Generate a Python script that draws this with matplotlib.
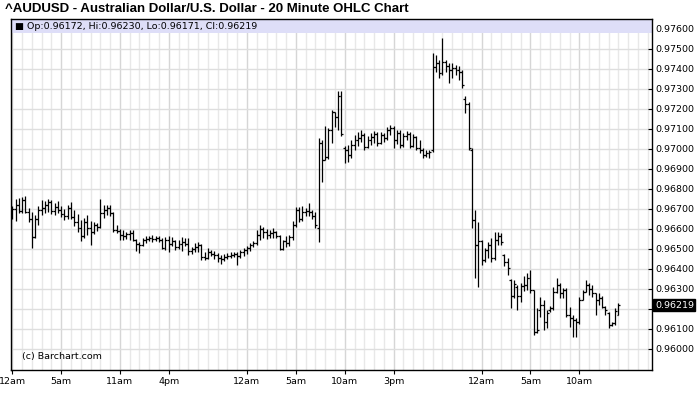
import numpy as np
import matplotlib
matplotlib.use("Agg")
import matplotlib.pyplot as plt
from matplotlib.patches import Rectangle

plt.rcParams["font.family"] = ["DejaVu Sans"]

# 20 minute bars, AUD/USD
opens = [
    0.96665, 0.96700, 0.96720, 0.96690, 0.96745, 0.96685, 0.96650, 0.96560, 0.96650, 0.96695,
    0.96705, 0.96720, 0.96735, 0.96690, 0.96710, 0.96695, 0.96675, 0.96665, 0.96705, 0.96660,
    0.96635, 0.96605, 0.96565, 0.96635, 0.96605, 0.96585, 0.96620, 0.96610, 0.96680, 0.96695,
    0.96705, 0.96680, 0.96595, 0.96590, 0.96570, 0.96565, 0.96575, 0.96580, 0.96545, 0.96525,
    0.96520, 0.96545, 0.96550, 0.96555, 0.96550, 0.96555, 0.96545, 0.96505, 0.96545, 0.96525,
    0.96540, 0.96510, 0.96525, 0.96535, 0.96525, 0.96490, 0.96500, 0.96510, 0.96520, 0.96460,
    0.96455, 0.96485, 0.96475, 0.96470, 0.96455, 0.96450, 0.96460, 0.96465, 0.96470, 0.96475,
    0.96465, 0.96485, 0.96495, 0.96505, 0.96520, 0.96530, 0.96570, 0.96600, 0.96585, 0.96570,
    0.96580, 0.96585, 0.96565, 0.96500, 0.96540, 0.96530, 0.96560, 0.96620, 0.96695, 0.96650,
    0.96685, 0.96690, 0.96685, 0.96665, 0.96605, 0.97030, 0.96945, 0.96960, 0.97095, 0.97185,
    0.97160, 0.97265, 0.97005, 0.96995, 0.96970, 0.97020, 0.97045, 0.97055, 0.97070, 0.97010,
    0.97045, 0.97060, 0.97075, 0.97030, 0.97070, 0.97055, 0.97095, 0.97105, 0.97045, 0.97080,
    0.97020, 0.97065, 0.97075, 0.97015, 0.97060, 0.97005, 0.96995, 0.96970, 0.96980, 0.96995,
    0.97410, 0.97430, 0.97380, 0.97435, 0.97415, 0.97395, 0.97405, 0.97395, 0.97385, 0.97250,
    0.97225, 0.96995, 0.96645, 0.96520, 0.96540, 0.96445, 0.96495, 0.96520, 0.96455, 0.96545,
    0.96565, 0.96470, 0.96435, 0.96345, 0.96265, 0.96310, 0.96265, 0.96315, 0.96320, 0.96355,
    0.96295, 0.96085, 0.96195, 0.96220, 0.96135, 0.96195, 0.96205, 0.96285, 0.96320, 0.96280,
    0.96295, 0.96170, 0.96155, 0.96145, 0.96135, 0.96245, 0.96285, 0.96320, 0.96300, 0.96280,
    0.96245, 0.96255, 0.96210, 0.96180, 0.96120, 0.96130, 0.96172,
]
highs = [
    0.96715, 0.96750, 0.96755, 0.96760, 0.96765, 0.96705, 0.96685, 0.96670, 0.96715, 0.96745,
    0.96740, 0.96750, 0.96745, 0.96730, 0.96740, 0.96715, 0.96700, 0.96720, 0.96735, 0.96695,
    0.96675, 0.96645, 0.96655, 0.96670, 0.96640, 0.96635, 0.96630, 0.96750, 0.96720, 0.96720,
    0.96720, 0.96685, 0.96620, 0.96600, 0.96595, 0.96585, 0.96595, 0.96595, 0.96550, 0.96535,
    0.96555, 0.96565, 0.96565, 0.96570, 0.96565, 0.96565, 0.96555, 0.96560, 0.96565, 0.96560,
    0.96545, 0.96545, 0.96560, 0.96555, 0.96555, 0.96510, 0.96530, 0.96535, 0.96525, 0.96485,
    0.96505, 0.96495, 0.96490, 0.96480, 0.96470, 0.96475, 0.96480, 0.96485, 0.96485, 0.96485,
    0.96495, 0.96505, 0.96515, 0.96530, 0.96540, 0.96595, 0.96620, 0.96610, 0.96600, 0.96595,
    0.96605, 0.96590, 0.96570, 0.96545, 0.96565, 0.96570, 0.96640, 0.96710, 0.96710, 0.96715,
    0.96705, 0.96730, 0.96695, 0.96685, 0.97055, 0.97045, 0.97115, 0.97105, 0.97195, 0.97185,
    0.97290, 0.97290, 0.97015, 0.97020, 0.97045, 0.97070, 0.97085, 0.97095, 0.97080, 0.97065,
    0.97080, 0.97090, 0.97085, 0.97085, 0.97080, 0.97110, 0.97120, 0.97115, 0.97095, 0.97095,
    0.97080, 0.97090, 0.97085, 0.97075, 0.97065, 0.97045, 0.97005, 0.96995, 0.96995, 0.97480,
    0.97470, 0.97445, 0.97555, 0.97445, 0.97430, 0.97430, 0.97420, 0.97415, 0.97395, 0.97265,
    0.97235, 0.97005, 0.96695, 0.96635, 0.96545, 0.96505, 0.96535, 0.96555, 0.96585, 0.96585,
    0.96580, 0.96475, 0.96455, 0.96350, 0.96345, 0.96320, 0.96330, 0.96365, 0.96380, 0.96395,
    0.96295, 0.96205, 0.96260, 0.96245, 0.96195, 0.96215, 0.96310, 0.96355, 0.96330, 0.96305,
    0.96305, 0.96210, 0.96170, 0.96155, 0.96260, 0.96295, 0.96345, 0.96330, 0.96320, 0.96280,
    0.96280, 0.96265, 0.96215, 0.96185, 0.96135, 0.96205, 0.96230,
]
lows = [
    0.96650, 0.96640, 0.96680, 0.96680, 0.96680, 0.96635, 0.96505, 0.96555, 0.96620, 0.96670,
    0.96680, 0.96685, 0.96675, 0.96670, 0.96680, 0.96660, 0.96645, 0.96650, 0.96650, 0.96615,
    0.96585, 0.96540, 0.96555, 0.96570, 0.96520, 0.96575, 0.96590, 0.96605, 0.96655, 0.96670,
    0.96665, 0.96585, 0.96580, 0.96545, 0.96545, 0.96550, 0.96545, 0.96540, 0.96490, 0.96480,
    0.96515, 0.96530, 0.96540, 0.96535, 0.96540, 0.96535, 0.96500, 0.96495, 0.96485, 0.96515,
    0.96495, 0.96500, 0.96490, 0.96515, 0.96470, 0.96475, 0.96485, 0.96485, 0.96445, 0.96445,
    0.96450, 0.96465, 0.96450, 0.96435, 0.96425, 0.96440, 0.96450, 0.96455, 0.96460, 0.96420,
    0.96455, 0.96465, 0.96475, 0.96490, 0.96510, 0.96520, 0.96545, 0.96555, 0.96550, 0.96555,
    0.96555, 0.96555, 0.96495, 0.96495, 0.96510, 0.96515, 0.96545, 0.96610, 0.96635, 0.96640,
    0.96665, 0.96665, 0.96650, 0.96605, 0.96535, 0.96835, 0.96945, 0.96950, 0.97030, 0.97110,
    0.97095, 0.97065, 0.96930, 0.96935, 0.96955, 0.96995, 0.97015, 0.97035, 0.96995, 0.97005,
    0.97020, 0.97030, 0.97015, 0.97025, 0.97035, 0.97045, 0.97070, 0.97005, 0.97025, 0.97005,
    0.97010, 0.97045, 0.97005, 0.97010, 0.96995, 0.96980, 0.96955, 0.96960, 0.96955, 0.96985,
    0.97385, 0.97355, 0.97370, 0.97385, 0.97330, 0.97355, 0.97370, 0.97345, 0.97305, 0.97180,
    0.96995, 0.96605, 0.96355, 0.96310, 0.96420, 0.96435, 0.96455, 0.96435, 0.96445, 0.96520,
    0.96520, 0.96415, 0.96370, 0.96205, 0.96255, 0.96195, 0.96235, 0.96290, 0.96295, 0.96280,
    0.96070, 0.96080, 0.96160, 0.96095, 0.96105, 0.96185, 0.96195, 0.96280, 0.96255, 0.96255,
    0.96160, 0.96110, 0.96060, 0.96060, 0.96125, 0.96245, 0.96285, 0.96270, 0.96260, 0.96170,
    0.96220, 0.96205, 0.96170, 0.96105, 0.96115, 0.96120, 0.96171,
]
closes = [
    0.96700, 0.96720, 0.96690, 0.96745, 0.96685, 0.96650, 0.96560, 0.96650, 0.96695, 0.96705,
    0.96720, 0.96735, 0.96690, 0.96710, 0.96695, 0.96675, 0.96665, 0.96705, 0.96660, 0.96635,
    0.96605, 0.96565, 0.96635, 0.96605, 0.96585, 0.96620, 0.96610, 0.96680, 0.96695, 0.96705,
    0.96680, 0.96595, 0.96590, 0.96570, 0.96565, 0.96575, 0.96580, 0.96545, 0.96525, 0.96520,
    0.96545, 0.96550, 0.96555, 0.96550, 0.96555, 0.96545, 0.96505, 0.96545, 0.96525, 0.96540,
    0.96510, 0.96525, 0.96535, 0.96525, 0.96490, 0.96500, 0.96510, 0.96520, 0.96460, 0.96455,
    0.96485, 0.96475, 0.96470, 0.96455, 0.96450, 0.96460, 0.96465, 0.96470, 0.96475, 0.96465,
    0.96485, 0.96495, 0.96505, 0.96520, 0.96530, 0.96570, 0.96600, 0.96585, 0.96570, 0.96580,
    0.96585, 0.96565, 0.96500, 0.96540, 0.96530, 0.96560, 0.96620, 0.96695, 0.96650, 0.96685,
    0.96690, 0.96685, 0.96665, 0.96620, 0.97030, 0.96945, 0.96960, 0.97095, 0.97185, 0.97160,
    0.97265, 0.97075, 0.96995, 0.96970, 0.97020, 0.97045, 0.97055, 0.97070, 0.97010, 0.97045,
    0.97060, 0.97075, 0.97030, 0.97070, 0.97055, 0.97095, 0.97105, 0.97045, 0.97080, 0.97020,
    0.97065, 0.97075, 0.97015, 0.97060, 0.97005, 0.96995, 0.96970, 0.96980, 0.96985, 0.97410,
    0.97430, 0.97380, 0.97435, 0.97415, 0.97395, 0.97405, 0.97395, 0.97385, 0.97320, 0.97225,
    0.97005, 0.96645, 0.96520, 0.96540, 0.96445, 0.96495, 0.96520, 0.96455, 0.96545, 0.96565,
    0.96535, 0.96435, 0.96405, 0.96265, 0.96325, 0.96265, 0.96315, 0.96320, 0.96355, 0.96295,
    0.96085, 0.96095, 0.96220, 0.96135, 0.96180, 0.96205, 0.96285, 0.96320, 0.96280, 0.96295,
    0.96170, 0.96155, 0.96145, 0.96135, 0.96245, 0.96285, 0.96320, 0.96300, 0.96280, 0.96245,
    0.96255, 0.96210, 0.96195, 0.96120, 0.96130, 0.96190, 0.96219,
]

# bar index of labelled times (3 bars per hour)
tick_pos = [0, 15, 33, 48, 72, 87, 102, 117, 144, 159, 174]
tick_labels = ["12am", "5am", "11am", "4pm", "12am", "5am", "10am", "3pm", "12am", "5am", "10am"]
price_ticks = [0.960, 0.961, 0.962, 0.963, 0.964, 0.965, 0.966, 0.967, 0.968,
               0.969, 0.970, 0.971, 0.972, 0.973, 0.974, 0.975, 0.976]

title = "^AUDUSD - Australian Dollar/U.S. Dollar - 20 Minute OHLC Chart"
ohlc_text = "\u25a0 Op:0.96172, Hi:0.96230, Lo:0.96171, Cl:0.96219"

x = np.arange(len(opens))
last = closes[-1]

fig = plt.figure(figsize=(7, 4.11), dpi=100)
ax = fig.add_axes([0.0153, 0.0998, 0.9157, 0.854])

# OHLC bars
ax.vlines(x, lows, highs, color="black", lw=0.9, zorder=3)
ax.hlines(opens, x - 0.6, x, color="black", lw=0.9, zorder=3)
ax.hlines(closes, x, x + 0.6, color="black", lw=0.9, zorder=3)

ax.set_xlim(-0.5, 196.2)
ax.set_ylim(0.95895, 0.9765)

# grid: hourly verticals, 0.001 horizontals
ax.set_xticks(tick_pos)
ax.set_xticklabels(tick_labels)
ax.set_xticks(np.arange(0, 197, 3), minor=True)
ax.grid(which="minor", axis="x", color="#e8e8e8", lw=1.0, zorder=0)
ax.grid(which="major", axis="x", color="#d6d6d6", lw=1.0, zorder=0)
ax.set_yticks(price_ticks)
# the label hidden behind the last-price box is left out
ax.set_yticklabels(["" if abs(v - last) < 0.0003 else "%.5f" % v for v in price_ticks])
ax.grid(which="major", axis="y", color="#dedede", lw=1.0, zorder=0)
ax.set_axisbelow(True)

ax.yaxis.tick_right()
ax.tick_params(axis="y", direction="in", length=3, width=0.8, pad=3, labelsize=6.8)
ax.tick_params(axis="x", which="major", direction="out", length=3, width=0.8,
               pad=2, labelsize=6.8)
ax.tick_params(axis="x", which="minor", length=0)

for s in ax.spines.values():
    s.set_color("black")
    s.set_linewidth(1.0)

# lavender header band inside plot
ax.add_patch(Rectangle((0, 0.960), 1, 0.04, transform=ax.transAxes,
                       facecolor="#dedef8", edgecolor="none", zorder=2))
ax.text(0.006, 0.980, ohlc_text, transform=ax.transAxes, fontsize=6.8,
        va="center", ha="left", zorder=4)

ax.text(0.018, 0.037, "(c) Barchart.com", transform=ax.transAxes, fontsize=6.8,
        va="center", ha="left", zorder=4)

# last price box on the right axis
ax.text(1.005, last, "%.5f" % last, transform=ax.get_yaxis_transform(),
        fontsize=6.8, color="white", va="center", ha="left",
        bbox=dict(boxstyle="square,pad=0.15", facecolor="black", edgecolor="black"),
        zorder=5, clip_on=False)

fig.text(0.007, 0.978, title, fontsize=9.5, fontweight="bold",
         family="Liberation Sans", va="center", ha="left")

fig.savefig("out.png", dpi=100)
